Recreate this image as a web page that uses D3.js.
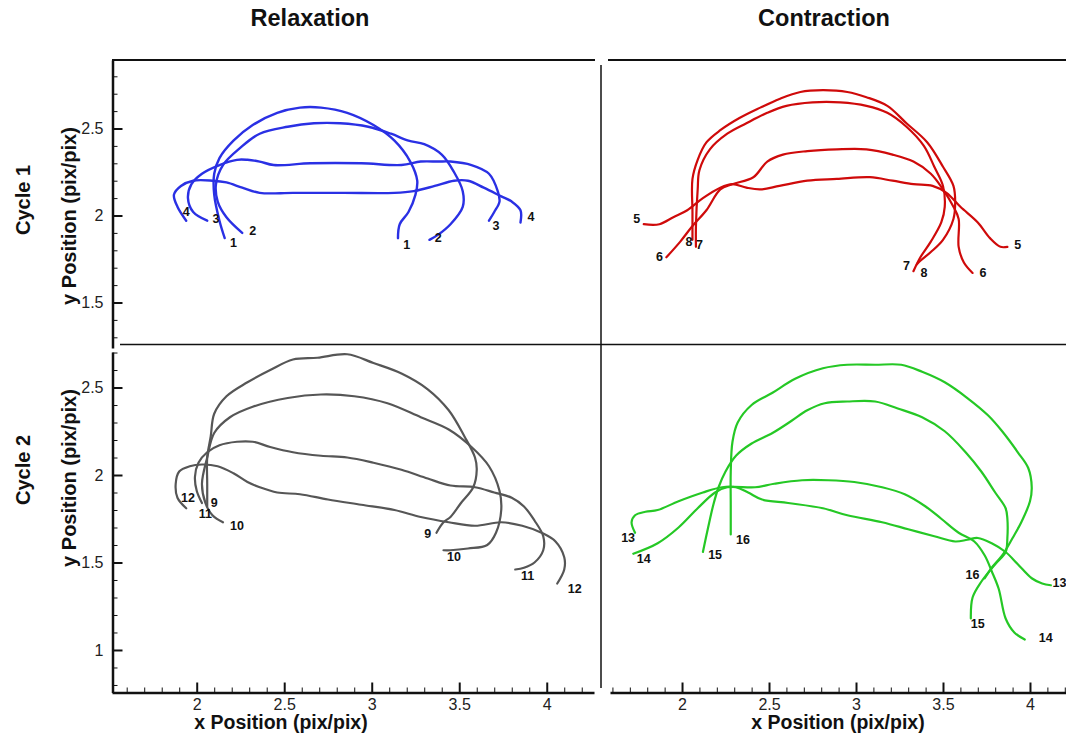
<!DOCTYPE html>
<html>
<head>
<meta charset="utf-8">
<script src="https://cdn.jsdelivr.net/npm/d3@7"></script>
<style>
  body { margin: 0; background: #fff; }
  svg { display: block; font-family: "Liberation Sans", Arial, Helvetica, sans-serif; }
</style>
</head>
<body>
<svg id="chart" width="1066" height="735"></svg>
<script>
// ---------- Trajectories (x, y in pix/pix) ----------
// Cycle 1, relaxation
const curve1 = [[2.16,1.87],[2.13,1.97],[2.10,2.12],[2.10,2.24],[2.13,2.33],[2.21,2.43],[2.32,2.52],[2.46,2.59],[2.59,2.62],[2.71,2.62],[2.86,2.59],[3.01,2.52],[3.13,2.43],[3.22,2.31],[3.26,2.20],[3.25,2.12],[3.21,2.02],[3.16,1.95],[3.15,1.87]];
const curve2 = [[2.26,1.90],[2.17,1.99],[2.12,2.08],[2.11,2.18],[2.15,2.29],[2.25,2.39],[2.36,2.47],[2.52,2.51],[2.67,2.53],[2.82,2.53],[2.98,2.51],[3.11,2.47],[3.21,2.43],[3.30,2.41],[3.40,2.35],[3.47,2.25],[3.52,2.14],[3.52,2.05],[3.45,1.95],[3.38,1.89],[3.33,1.86]];
const curve3 = [[2.06,1.97],[1.98,2.02],[1.95,2.10],[1.97,2.18],[2.03,2.24],[2.13,2.29],[2.23,2.32],[2.29,2.32],[2.36,2.31],[2.44,2.29],[2.65,2.30],[2.94,2.30],[3.17,2.29],[3.28,2.31],[3.38,2.31],[3.45,2.31],[3.57,2.29],[3.67,2.24],[3.72,2.14],[3.73,2.08],[3.70,2.02],[3.67,1.97]];
const curve4 = [[1.94,1.97],[1.89,2.05],[1.87,2.12],[1.91,2.17],[1.98,2.20],[2.09,2.20],[2.17,2.19],[2.26,2.16],[2.36,2.13],[2.55,2.13],[2.84,2.13],[3.13,2.13],[3.24,2.14],[3.36,2.17],[3.47,2.20],[3.55,2.20],[3.64,2.16],[3.74,2.11],[3.80,2.08],[3.85,2.03],[3.85,1.96]];
// Cycle 1, contraction
const curve5 = [[1.78,1.95],[1.87,1.95],[1.95,1.99],[2.03,2.03],[2.12,2.10],[2.22,2.16],[2.29,2.18],[2.37,2.16],[2.45,2.15],[2.56,2.17],[2.72,2.20],[2.89,2.21],[3.08,2.22],[3.21,2.20],[3.33,2.18],[3.44,2.17],[3.52,2.13],[3.60,2.05],[3.70,1.96],[3.77,1.87],[3.83,1.82],[3.87,1.82]];
const curve6 = [[1.91,1.76],[1.99,1.85],[2.06,1.94],[2.14,2.03],[2.22,2.15],[2.29,2.18],[2.41,2.22],[2.49,2.31],[2.58,2.35],[2.72,2.37],[2.89,2.38],[3.06,2.38],[3.21,2.35],[3.33,2.31],[3.43,2.24],[3.50,2.15],[3.56,2.05],[3.59,1.98],[3.59,1.82],[3.62,1.73],[3.67,1.67]];
const curve7 = [[2.08,1.82],[2.08,1.94],[2.09,2.15],[2.10,2.26],[2.16,2.38],[2.26,2.47],[2.37,2.53],[2.49,2.59],[2.60,2.63],[2.75,2.65],[2.91,2.65],[3.06,2.63],[3.18,2.59],[3.29,2.51],[3.39,2.40],[3.45,2.28],[3.50,2.17],[3.51,2.05],[3.49,1.96],[3.43,1.85],[3.37,1.76],[3.33,1.68]];
const curve8 = [[2.06,1.86],[2.06,2.02],[2.06,2.21],[2.09,2.32],[2.14,2.42],[2.22,2.49],[2.33,2.56],[2.45,2.62],[2.56,2.67],[2.68,2.71],[2.81,2.72],[2.95,2.71],[3.06,2.68],[3.18,2.63],[3.29,2.53],[3.41,2.42],[3.50,2.28],[3.56,2.17],[3.57,2.08],[3.56,1.98],[3.50,1.86],[3.43,1.79],[3.37,1.74],[3.35,1.72]];
// Cycle 2, relaxation
const curve9 = [[2.06,1.82],[2.06,1.95],[2.06,2.10],[2.08,2.22],[2.10,2.35],[2.17,2.45],[2.29,2.53],[2.42,2.60],[2.55,2.66],[2.69,2.67],[2.86,2.69],[3.01,2.64],[3.17,2.58],[3.32,2.49],[3.44,2.37],[3.53,2.22],[3.59,2.10],[3.60,2.03],[3.58,1.93],[3.51,1.84],[3.45,1.76],[3.41,1.73],[3.37,1.67]];
const curve10 = [[2.15,1.73],[2.09,1.77],[2.05,1.84],[2.03,1.95],[2.06,2.10],[2.10,2.24],[2.19,2.33],[2.32,2.39],[2.52,2.44],[2.71,2.46],[2.90,2.45],[3.09,2.41],[3.28,2.33],[3.44,2.26],[3.57,2.16],[3.67,2.05],[3.73,1.91],[3.74,1.80],[3.71,1.67],[3.66,1.60],[3.55,1.58],[3.45,1.57],[3.41,1.57]];
const curve11 = [[2.03,1.84],[2.00,1.91],[1.99,1.99],[2.01,2.07],[2.06,2.13],[2.13,2.17],[2.23,2.19],[2.32,2.19],[2.42,2.16],[2.55,2.13],[2.71,2.11],[2.86,2.10],[3.01,2.07],[3.17,2.03],[3.32,1.98],[3.45,1.94],[3.59,1.93],[3.70,1.90],[3.80,1.87],[3.87,1.82],[3.93,1.74],[3.98,1.65],[3.98,1.57],[3.93,1.50],[3.87,1.47],[3.82,1.46]];
const curve12 = [[1.94,1.81],[1.89,1.87],[1.88,1.95],[1.90,2.02],[1.96,2.05],[2.03,2.06],[2.12,2.05],[2.21,2.01],[2.29,1.96],[2.36,1.93],[2.46,1.90],[2.59,1.89],[2.75,1.86],[2.94,1.83],[3.13,1.80],[3.28,1.76],[3.44,1.73],[3.59,1.71],[3.74,1.73],[3.86,1.71],[3.97,1.67],[4.05,1.62],[4.10,1.53],[4.10,1.46],[4.06,1.38]];
// Cycle 2, contraction
const curve13 = [[1.73,1.67],[1.71,1.73],[1.73,1.77],[1.79,1.79],[1.86,1.80],[1.98,1.85],[2.12,1.90],[2.23,1.93],[2.31,1.93],[2.38,1.90],[2.46,1.86],[2.61,1.84],[2.81,1.81],[2.95,1.77],[3.15,1.73],[3.30,1.69],[3.45,1.65],[3.57,1.62],[3.64,1.63],[3.70,1.64],[3.78,1.61],[3.86,1.56],[3.93,1.49],[4.01,1.41],[4.07,1.38],[4.12,1.37]];
const curve14 = [[1.72,1.55],[1.86,1.61],[1.98,1.70],[2.09,1.81],[2.19,1.90],[2.26,1.93],[2.42,1.93],[2.53,1.95],[2.69,1.97],[2.84,1.97],[2.99,1.96],[3.15,1.93],[3.28,1.89],[3.40,1.82],[3.49,1.75],[3.59,1.67],[3.68,1.62],[3.74,1.54],[3.78,1.45],[3.82,1.35],[3.86,1.18],[3.91,1.10],[3.97,1.06]];
const curve15 = [[2.12,1.56],[2.15,1.70],[2.18,1.83],[2.21,1.93],[2.25,2.02],[2.31,2.11],[2.40,2.18],[2.52,2.24],[2.63,2.31],[2.72,2.37],[2.82,2.41],[2.95,2.42],[3.11,2.42],[3.24,2.38],[3.38,2.33],[3.51,2.25],[3.63,2.13],[3.72,2.02],[3.80,1.90],[3.86,1.81],[3.87,1.75],[3.87,1.64],[3.86,1.56],[3.80,1.49],[3.72,1.39],[3.67,1.30],[3.66,1.18]];
const curve16 = [[2.28,1.66],[2.28,1.83],[2.28,2.02],[2.29,2.19],[2.32,2.30],[2.40,2.40],[2.52,2.47],[2.65,2.55],[2.81,2.61],[2.95,2.63],[3.11,2.63],[3.26,2.63],[3.38,2.59],[3.51,2.53],[3.64,2.44],[3.76,2.34],[3.84,2.25],[3.93,2.13],[3.99,2.04],[4.01,1.93],[4.00,1.85],[3.95,1.73],[3.90,1.64],[3.84,1.54],[3.78,1.47],[3.74,1.41]];

// ---------- End-point numbers: [text, x, y] ----------
const labelsC1Relax = [["1",2.21,1.84],["1",3.20,1.83],["2",2.32,1.91],["2",3.38,1.87],["3",2.11,1.98],["3",3.71,1.94],["4",1.94,2.02],["4",3.91,1.99]];
const labelsC1Contr = [["5",1.74,1.98],["5",3.93,1.83],["6",1.87,1.76],["6",3.73,1.67],["8",2.04,1.85],["7",2.10,1.83],["7",3.29,1.71],["8",3.39,1.67]];
const labelsC2Relax = [["12",1.95,1.87],["9",2.10,1.84],["11",2.05,1.78],["10",2.23,1.71],["9",3.32,1.66],["10",3.47,1.53],["11",3.89,1.42],["12",4.16,1.35]];
const labelsC2Contr = [["13",1.69,1.64],["14",1.78,1.52],["15",2.19,1.54],["16",2.35,1.63],["16",3.67,1.43],["13",4.17,1.38],["15",3.70,1.15],["14",4.09,1.07]];

// ---------- Axis ticks and titles ----------
const xMajorTicks = [2, 2.5, 3, 3.5, 4];
const yMajorTicksTop = [1.5, 2, 2.5];
const yMajorTicksBottom = [1, 1.5, 2, 2.5];
const columnTitles = ["Relaxation", "Contraction"];
const rowTitles = ["Cycle 1", "Cycle 2"];
const xTitle = "x Position (pix/pix)";
const yTitle = "y Position (pix/pix)";

// ---------- Scales ----------
const xLeft = d3.scaleLinear().domain([1.516, 4.27]).range([112, 594]);
const xRight = d3.scaleLinear().domain([1.586, 4.207]).range([610, 1066]);
const yTop = d3.scaleLinear().domain([1.2385, 2.8937]).range([348, 60]);
const yBottom = d3.scaleLinear().domain([0.757, 2.703]).range([692.5, 352]);

// minor ticks every 0.1 between the labelled ones
const minorTicks = (scale) => {
  const [a, b] = scale.domain();
  return d3.range(Math.ceil(a * 10), Math.floor(b * 10) + 1)
    .map(v => v / 10)
    .filter(v => Math.abs(v * 2 - Math.round(v * 2)) > 1e-6);
};

const svg = d3.select("#chart");

// ---------- Frame lines ----------
const frame = svg.append("g").attr("stroke", "#111").attr("fill", "none");
frame.append("line").attr("x1", 112).attr("x2", 595).attr("y1", 60).attr("y2", 60).attr("stroke-width", 2);
frame.append("line").attr("x1", 608).attr("x2", 1066).attr("y1", 60).attr("y2", 60).attr("stroke-width", 2);
frame.append("line").attr("x1", 120).attr("x2", 1066).attr("y1", 344.5).attr("y2", 344.5).attr("stroke-width", 1.5);
frame.append("line").attr("x1", 601).attr("x2", 601).attr("y1", 65).attr("y2", 688).attr("stroke-width", 1.5);

// ---------- Axes ----------
function styleAxis(g) {
  g.selectAll(".domain").attr("stroke", "#111").attr("stroke-width", 2.5);
  g.selectAll(".tick line").attr("stroke", "#111");
  g.selectAll(".tick text").attr("fill", "#222").style("font-size", "16px")
    .style("font-family", "'Liberation Sans', Arial, sans-serif");
}

function yAxis(scale, majors, xPos) {
  const g = svg.append("g").attr("transform", `translate(${xPos},0)`);
  g.call(d3.axisLeft(scale).tickValues(majors).tickSizeInner(-10).tickSizeOuter(0).tickPadding(9).tickFormat(d3.format("")));
  styleAxis(g);
  g.selectAll(".tick line").attr("stroke-width", 2);
  const m = svg.append("g").attr("transform", `translate(${xPos},0)`);
  m.call(d3.axisLeft(scale).tickValues(minorTicks(scale)).tickSizeInner(-5).tickSizeOuter(0).tickFormat(""));
  m.select(".domain").remove();
  m.selectAll(".tick line").attr("stroke", "#111").attr("stroke-width", 1);
}

function xAxis(scale, majors, yPos) {
  const g = svg.append("g").attr("transform", `translate(0,${yPos})`);
  g.call(d3.axisBottom(scale).tickValues(majors).tickSizeInner(-10).tickSizeOuter(0).tickPadding(6).tickFormat(d3.format("")));
  styleAxis(g);
  g.selectAll(".tick line").attr("stroke-width", 2);
  const m = svg.append("g").attr("transform", `translate(0,${yPos})`);
  m.call(d3.axisBottom(scale).tickValues(minorTicks(scale)).tickSizeInner(-5).tickSizeOuter(0).tickFormat(""));
  m.select(".domain").remove();
  m.selectAll(".tick line").attr("stroke", "#111").attr("stroke-width", 1);
}

yAxis(yTop, yMajorTicksTop, 112.5);
yAxis(yBottom, yMajorTicksBottom, 112.5);
xAxis(xLeft, xMajorTicks, 692.5);
xAxis(xRight, xMajorTicks, 692.5);

// ---------- Panels ----------
const panels = [
  { curves: [curve1, curve2, curve3, curve4], labels: labelsC1Relax, color: "#2a30e4", x: xLeft, y: yTop, width: 2.4 },
  { curves: [curve5, curve6, curve7, curve8], labels: labelsC1Contr, color: "#cf0a0a", x: xRight, y: yTop, width: 2.2 },
  { curves: [curve9, curve10, curve11, curve12], labels: labelsC2Relax, color: "#565656", x: xLeft, y: yBottom, width: 2.2 },
  { curves: [curve13, curve14, curve15, curve16], labels: labelsC2Contr, color: "#25c825", x: xRight, y: yBottom, width: 2.2 }
];

panels.forEach(p => {
  const line = d3.line()
    .x(d => p.x(d[0]))
    .y(d => p.y(d[1]))
    .curve(d3.curveCatmullRom.alpha(0.5));
  const g = svg.append("g");
  g.selectAll("path")
    .data(p.curves)
    .join("path")
    .attr("d", line)
    .attr("fill", "none")
    .attr("stroke", p.color)
    .attr("stroke-width", p.width)
    .attr("stroke-linecap", "round")
    .attr("stroke-linejoin", "round");
  g.selectAll("text")
    .data(p.labels)
    .join("text")
    .attr("x", d => p.x(d[1]))
    .attr("y", d => p.y(d[2]))
    .attr("text-anchor", "middle")
    .attr("dominant-baseline", "central")
    .style("font-size", "12.5px")
    .style("font-weight", "bold")
    .attr("fill", "#111")
    .text(d => d[0]);
});

// ---------- Titles ----------
const titles = svg.append("g").attr("fill", "#111").style("font-weight", "bold");
titles.selectAll("text.col")
  .data(columnTitles)
  .join("text")
  .attr("class", "col")
  .attr("x", (d, i) => [310, 824][i])
  .attr("y", 26)
  .attr("text-anchor", "middle")
  .style("font-size", "23.5px")
  .text(d => d);

titles.selectAll("text.row")
  .data(rowTitles)
  .join("text")
  .attr("class", "row")
  .attr("transform", (d, i) => `translate(30,${[200, 470][i]}) rotate(-90)`)
  .attr("text-anchor", "middle")
  .style("font-size", "20px")
  .text(d => d);

titles.selectAll("text.ytitle")
  .data([yTop, yBottom])
  .join("text")
  .attr("class", "ytitle")
  .attr("transform", (s, i) => `translate(76,${[216, 478][i]}) rotate(-90)`)
  .attr("text-anchor", "middle")
  .style("font-size", "20px")
  .text(yTitle);

titles.selectAll("text.xtitle")
  .data([xLeft, xRight])
  .join("text")
  .attr("class", "xtitle")
  .attr("x", (s, i) => [281, 838][i])
  .attr("y", 729)
  .attr("text-anchor", "middle")
  .style("font-size", "19.5px")
  .text(xTitle);
</script>
</body>
</html>
